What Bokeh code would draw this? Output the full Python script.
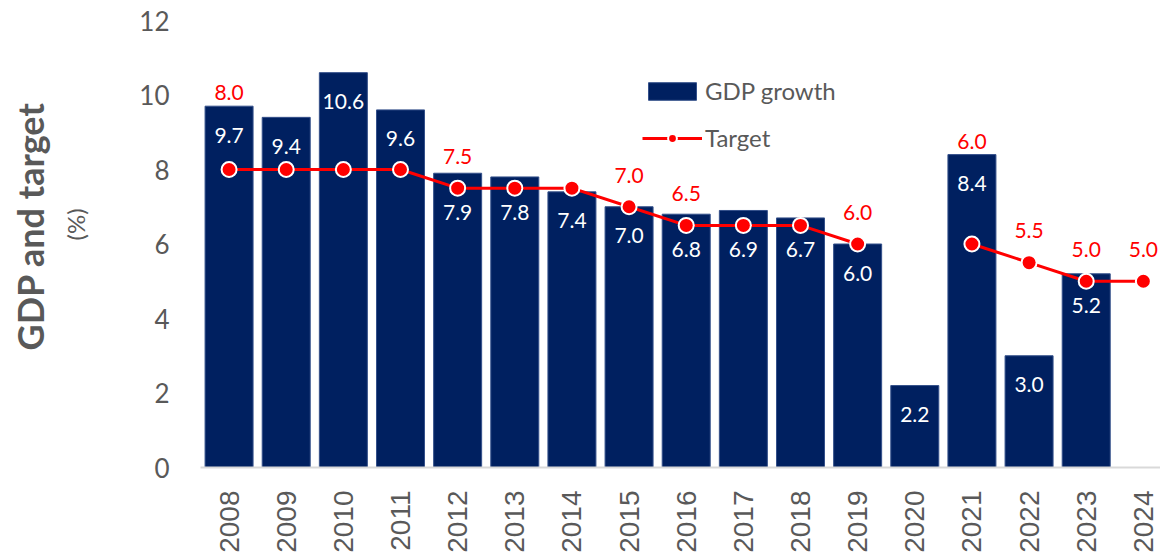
import math
from bokeh.plotting import figure
from bokeh.models import (Range1d, FixedTicker, ColumnDataSource, Legend, LegendItem,
                          Title, BasicTickFormatter, LinearAxis, CustomJSTickFormatter)
from bokeh.embed import file_html
from bokeh.resources import INLINE
from bokeh.core.properties import value

# ---- data ----
years = list(range(2008, 2025))
gdp_growth = [9.7, 9.4, 10.6, 9.6, 7.9, 7.8, 7.4, 7.0, 6.8, 6.9, 6.7, 6.0, 2.2, 8.4, 3.0, 5.2, None]
target = [8.0, 8.0, 8.0, 8.0, 7.5, 7.5, 7.5, 7.0, 6.5, 6.5, 6.5, 6.0, None, 6.0, 5.5, 5.0, 5.0]
y_ticks = [0, 2, 4, 6, 8, 10, 12]
series_names = ["GDP growth", "Target"]
y_title = "GDP and target"
y_unit = "(%)"

NAVY = "#002060"
RED = "#FF0000"
GRAY = "#595959"
nan = float("nan")

# bars
bar_x = [y for y, g in zip(years, gdp_growth) if g is not None]
bar_top = [g for g in gdp_growth if g is not None]

# gdp labels inside bars, moved below the target marker if they collide
gdp_lab_y = []
for g, t in zip(bar_top, [target[years.index(y)] for y in bar_x]):
    ly = g - 0.78
    if t is not None and abs(ly - t) < 0.6:
        ly = t - 0.65
    gdp_lab_y.append(ly)
gdp_src = ColumnDataSource(dict(x=bar_x, top=bar_top, ly=gdp_lab_y,
                                txt=[f"{g:.1f}" for g in bar_top]))

# target line
tgt_y = [t if t is not None else nan for t in target]
tgt_src = ColumnDataSource(dict(x=years, y=tgt_y))

# target labels where the target changes (plus first/last)
tl_x, tl_y, tl_t = [], [], []
for i, (yr, t) in enumerate(zip(years, target)):
    if t is None:
        continue
    prev = target[i - 1] if i > 0 else None
    if i == 0 or prev is None or prev != t or i == len(years) - 1:
        g = gdp_growth[i] if gdp_growth[i] is not None else 0
        tl_x.append(yr)
        tl_y.append(max(t + 0.85, g + 0.36))
        tl_t.append(f"{t:.1f}")
tl_src = ColumnDataSource(dict(x=tl_x, y=tl_y, txt=tl_t))

p = figure(width=1160, height=555, output_backend="svg", toolbar_location=None,
           x_range=Range1d(2007.5, 2024.3), y_range=Range1d(0, 12),
           min_border_left=198, min_border_right=0, min_border_top=20, min_border_bottom=88)
p.outline_line_color = None
p.grid.visible = False
p.background_fill_color = "white"
p.border_fill_color = "white"

bars = p.vbar(x="x", top="top", width=0.84, source=gdp_src, fill_color=NAVY,
              line_color="#34508A", line_width=1)
p.text(x="x", y="ly", text="txt", source=gdp_src, text_color="white",
       text_font=value("Lato"), text_font_size="21px", text_align="center",
       text_baseline="middle")

line = p.line(x="x", y="y", source=tgt_src, line_color=RED, line_width=3)
pts = p.scatter(x="x", y="y", source=tgt_src, size=15, fill_color=RED,
                line_color="white", line_width=2)
p.text(x="x", y="y", text="txt", source=tl_src, text_color=RED,
       text_font=value("Lato"), text_font_size="21px", text_align="center",
       text_baseline="middle")

# axes
p.xaxis.ticker = FixedTicker(ticks=years)
p.xaxis.formatter = BasicTickFormatter(use_scientific=False)
p.xaxis.major_label_orientation = math.pi / 2
p.xaxis.major_label_text_font = "Liberation Sans"
p.xaxis.major_label_text_font_size = "28px"
p.xaxis.major_label_text_color = GRAY
p.xaxis.major_tick_out = 0
p.xaxis.major_tick_in = 0
p.xaxis.major_label_standoff = 23
p.xaxis.major_tick_line_color = None
p.xaxis.minor_tick_line_color = None
p.xaxis.axis_line_color = "#D9D9D9"
p.xaxis.axis_line_width = 2

p.yaxis.ticker = FixedTicker(ticks=y_ticks)
p.yaxis.major_label_text_font = "Lato"
p.yaxis.major_label_text_font_size = "26px"
p.yaxis.major_label_text_color = GRAY
p.yaxis.major_tick_out = 0
p.yaxis.major_tick_in = 0
p.yaxis.major_label_standoff = 31
p.yaxis.major_tick_line_color = None
p.yaxis.minor_tick_line_color = None
p.yaxis.axis_line_color = None

# invisible spacer axis (hidden tick, empty label) between tick labels and the titles
spacer = LinearAxis(ticker=FixedTicker(ticks=[0]), major_tick_out=45, major_tick_in=0,
                    major_label_standoff=0, axis_line_color=None,
                    formatter=CustomJSTickFormatter(code="return ''"),
                    major_tick_line_color=None, minor_tick_line_color=None)
p.add_layout(spacer, "left")

p.add_layout(Title(text=y_unit, text_font="Lato", text_font_size="24px",
                   text_font_style="normal", text_color=GRAY, align="left",
                   offset=227, standoff=4), "left")
p.add_layout(Title(text=y_title, text_font="Lato", text_font_size="36px",
                   text_font_style="bold", text_color=GRAY, align="left",
                   offset=117, standoff=10), "left")

legend = Legend(items=[LegendItem(label=series_names[0], renderers=[bars]),
                       LegendItem(label=series_names[1], renderers=[line, pts])],
                location=(442, 315), padding=0, margin=0, spacing=18,
                glyph_width=60, glyph_height=22, label_height=18, label_standoff=3,
                label_text_font="Lato", label_text_font_size="24px",
                label_text_color=GRAY, border_line_color=None,
                background_fill_alpha=0)
p.add_layout(legend)

open("out.html", "w").write(file_html(p, INLINE))
